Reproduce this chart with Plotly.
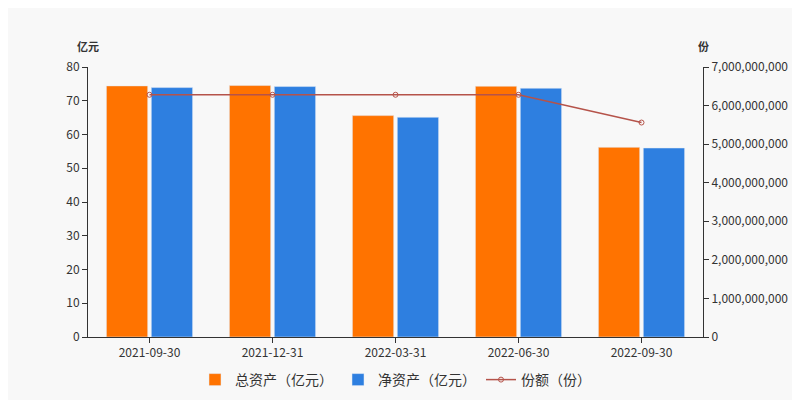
import plotly.graph_objects as go

dates = ["2021-09-30", "2021-12-31", "2022-03-31", "2022-06-30", "2022-09-30"]
total_assets = [74.4, 74.5, 65.6, 74.3, 56.2]
net_assets = [73.9, 74.2, 65.1, 73.7, 56.0]
shares = [6.28e9, 6.28e9, 6.28e9, 6.28e9, 5.56e9]
right_ticks = [0, 1e9, 2e9, 3e9, 4e9, 5e9, 6e9, 7e9]
right_labels = ["0", "1,000,000,000", "2,000,000,000", "3,000,000,000", "4,000,000,000",
                "5,000,000,000", "6,000,000,000", "7,000,000,000"]

fig = go.Figure()
fig.add_bar(x=dates, y=total_assets, name="总资产（亿元）", marker_color="#ff7300")
fig.add_bar(x=dates, y=net_assets, name="净资产（亿元）", marker_color="#2e7fe0")
fig.add_scatter(x=dates, y=shares, name="份额（份）", yaxis="y2", mode="lines+markers",
                line=dict(color="#b5534a", width=1.5),
                marker=dict(symbol="circle-open", size=5, color="#b5534a"))

fig.update_layout(
    width=800, height=400, margin=dict(l=80, r=105, t=59, b=61),
    paper_bgcolor="#f8f8f8", plot_bgcolor="#f8f8f8",
    font=dict(family="Noto Sans CJK SC", size=12, color="#333"),
    barmode="group", bargap=0.27, bargroupgap=0.08,
    xaxis=dict(type="category", showline=True, linecolor="#333", ticks="outside",
               tickcolor="#333", showgrid=False, automargin=False),
    yaxis=dict(range=[0, 80], dtick=10, showline=True, linecolor="#333", ticks="outside",
               tickcolor="#333", showgrid=False, zeroline=False, automargin=False),
    yaxis2=dict(range=[0, 7e9], overlaying="y", side="right", tickvals=right_ticks,
                ticktext=right_labels, showline=True, linecolor="#333", ticks="outside",
                tickcolor="#333", showgrid=False, zeroline=False, automargin=False),
    legend=dict(orientation="h", x=0.5, xanchor="center", y=-0.1, yanchor="top",
                font=dict(size=14)),
    annotations=[
        dict(text="<b>亿元</b>", x=0.0, xref="paper", y=1.04, yref="paper", showarrow=False,
             xanchor="center", yanchor="bottom", font=dict(size=11)),
        dict(text="<b>份</b>", x=1.0, xref="paper", y=1.04, yref="paper", showarrow=False,
             xanchor="center", yanchor="bottom", font=dict(size=11)),
    ],
)
fig.write_html("out.html")
